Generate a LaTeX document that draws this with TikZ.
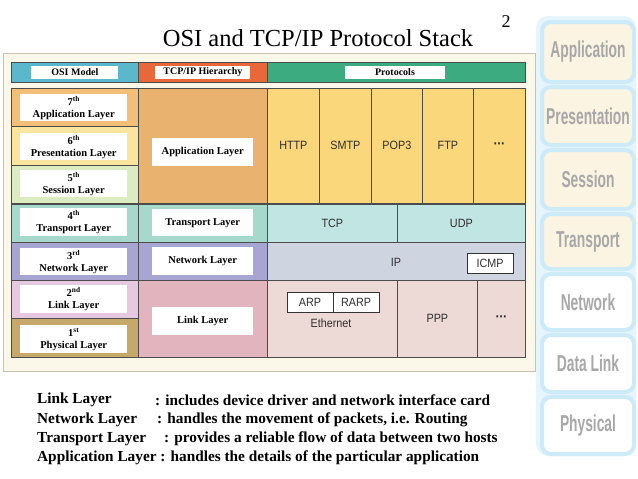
\documentclass[tikz,border=0pt]{standalone}
\usepackage{fontspec}
\usepackage{graphicx}
\setmainfont{Liberation Serif}
\setsansfont{Liberation Sans}
\definecolor{panelbg}{HTML}{FBF8EA}
\definecolor{panelbd}{HTML}{C8C2AE}
\definecolor{osihead}{HTML}{5BB8CC}
\definecolor{tcphead}{HTML}{E8683A}
\definecolor{prothead}{HTML}{3DAB80}
\definecolor{appsev}{HTML}{F3BE78}
\definecolor{pressix}{HTML}{FBE59E}
\definecolor{sessfive}{HTML}{DCEBC0}
\definecolor{transc}{HTML}{A6D9CB}
\definecolor{netc}{HTML}{A7A6D3}
\definecolor{linktwo}{HTML}{E6C9E1}
\definecolor{physc}{HTML}{C6A96A}
\definecolor{tcpapp}{HTML}{E9B26F}
\definecolor{tcplink}{HTML}{E2B4BD}
\definecolor{protoapp}{HTML}{FBD77B}
\definecolor{prototrans}{HTML}{C0E5E3}
\definecolor{protonet}{HTML}{CFD4E1}
\definecolor{protolink}{HTML}{EDD9D5}
\definecolor{sideblue}{HTML}{CDEAF8}
\definecolor{sideglow}{HTML}{E6F4FB}
\definecolor{sidecream}{HTML}{FBF4E2}
\definecolor{sidetext}{HTML}{A8A8A8}
\definecolor{prottext}{HTML}{2E2E2E}
\newcommand\ptxt[1]{\scalebox{0.9}[1]{\sffamily\fontsize{12}{13}\selectfont\color{prottext}#1}}
\newcommand\pdotsx{{\bfseries\fontsize{14}{14}\selectfont ·\kern-0.5pt·\kern-0.5pt·}}
\tikzset{
  cellst/.style={draw=black!70, line width=0.7pt, inner sep=0pt, rectangle},
  lblst/.style={fill=white, inner sep=0pt, align=center, font=\bfseries\fontsize{10.5}{12}\selectfont},
  headlbl/.style={fill=white, inner sep=0pt, font=\bfseries\fontsize{10}{12}\selectfont},
  smallbox/.style={draw=black!80, fill=white, line width=0.8pt, inner sep=0pt},
  sidebox/.style={draw=sideblue, line width=4pt, rounded corners=9pt, inner sep=0pt},
  sidetxt/.style={text=sidetext, inner sep=0pt},
  desc/.style={anchor=west, inner sep=0pt, font=\bfseries\fontsize{15.3}{17}\selectfont}
}
\newcommand\cellbox[7]{%
  \node[cellst, fill=#6, minimum width={#4pt-#2pt}, minimum height={#5pt-#3pt}, anchor=north west] (#1) at (#2,#3) {#7};}
\newcommand\lblbox[6]{%
  \node[lblst, minimum width={#4pt-#2pt}, minimum height={#5pt-#3pt}, anchor=north west] (#1) at (#2,#3) {#6};}
\newcommand\sidebx[6]{%
  \node[sidebox, fill=#6, minimum width={#4pt-#2pt}, minimum height={#5pt-#3pt}, anchor=north west] (#1) at (#2,#3) {};}
\newcommand\sidelabel[1]{\scalebox{0.6}[1]{\fontsize{23}{23}\selectfont\sffamily\bfseries #1}}
\begin{document}
\begin{tikzpicture}[x=1pt,y=-1pt]
\useasboundingbox (0,0) rectangle (638,479);
\fill[white] (0,0) rectangle (638,479);
% title
\node[inner sep=0pt, font=\fontsize{24.5}{26}\selectfont] (title) at (318,38) {OSI and TCP/IP Protocol Stack};
\node[inner sep=0pt, font=\fontsize{18}{20}\selectfont] (pagenum) at (506,22) {2};
% right decorative OSI column
\fill[sideglow, rounded corners=12pt] (536,16) rectangle (636,456);
\sidebx{sapp}{540}{20}{632}{80}{sidecream}
\sidebx{spres}{540}{85}{632}{143}{sidecream}
\sidebx{ssess}{540}{148}{632}{207}{sidecream}
\sidebx{strans}{540}{212}{632}{267}{sidecream}
\sidebx{snet}{540}{272}{632}{328}{white}
\sidebx{sdl}{540}{333}{632}{390}{white}
\sidebx{sphys}{540}{395}{632}{452}{white}
\node[sidetxt] (tapp) at (sapp.center) {\sidelabel{Application}};
\node[sidetxt] (tpres) at (spres.center) {\sidelabel{Presentation}};
\node[sidetxt] (tsess) at (ssess.center) {\sidelabel{Session}};
\node[sidetxt] (ttrans) at (strans.center) {\sidelabel{Transport}};
\node[sidetxt] (tnet) at (snet.center) {\sidelabel{Network}};
\node[sidetxt] (tdl) at (sdl.center) {\sidelabel{Data Link}};
\node[sidetxt] (tphys) at (sphys.center) {\sidelabel{Physical}};
% panel
\node[draw=panelbd, fill=panelbg, line width=0.8pt, minimum width=532pt, minimum height=318pt, anchor=north west, inner sep=0pt] (panel) at (3,53) {};
% header row
\cellbox{hosi}{11}{62}{138}{82}{osihead}{}
\cellbox{htcp}{138}{62}{267}{82}{tcphead}{}
\cellbox{hprot}{267}{62}{525}{82}{prothead}{}
\node[headlbl, minimum width=87pt, minimum height=13pt] (losi) at (hosi.center) {OSI Model};
\node[headlbl, minimum width=95pt, minimum height=13pt] (ltcp) at (htcp.center) {TCP/IP Hierarchy};
\node[headlbl, minimum width=100pt, minimum height=13pt] (lprot) at (395,72) {Protocols};
% OSI column
\cellbox{o7}{11}{88}{138}{126}{appsev}{}
\cellbox{o6}{11}{126}{138}{165}{pressix}{}
\cellbox{o5}{11}{165}{138}{203}{sessfive}{}
\cellbox{o4}{11}{204}{138}{242}{transc}{}
\cellbox{o3}{11}{242}{138}{280}{netc}{}
\cellbox{o2}{11}{280}{138}{318}{linktwo}{}
\cellbox{o1}{11}{318}{138}{357}{physc}{}
\lblbox{l7}{20}{94}{127}{121}{7\textsuperscript{th}\\Application Layer}
\lblbox{l6}{20}{133}{127}{160}{6\textsuperscript{th}\\Presentation Layer}
\lblbox{l5}{20}{170}{127}{197}{5\textsuperscript{th}\\Session Layer}
\lblbox{l4}{20}{208}{127}{236}{4\textsuperscript{th}\\Transport Layer}
\lblbox{l3}{20}{248}{127}{275}{3\textsuperscript{rd}\\Network Layer}
\lblbox{l2}{20}{285}{127}{313}{2\textsuperscript{nd}\\Link Layer}
\lblbox{l1}{20}{325}{127}{353}{1\textsuperscript{st}\\Physical Layer}
% TCP/IP column
\cellbox{tapl}{138}{88}{267}{203}{tcpapp}{}
\cellbox{ttra}{138}{204}{267}{242}{transc}{}
\cellbox{tnw}{138}{242}{267}{280}{netc}{}
\cellbox{tlk}{138}{280}{267}{357}{tcplink}{}
\lblbox{lta}{152}{138}{253}{166}{Application Layer}
\lblbox{ltt}{152}{209}{253}{236}{Transport Layer}
\lblbox{ltn}{152}{247}{253}{275}{Network Layer}
\lblbox{ltl}{152}{307}{253}{335}{Link Layer}
% protocols column
\cellbox{phttp}{267}{88}{319}{203}{protoapp}{\ptxt{HTTP}}
\cellbox{psmtp}{319}{88}{371}{203}{protoapp}{\ptxt{SMTP}}
\cellbox{ppop}{371}{88}{422}{203}{protoapp}{\ptxt{POP3}}
\cellbox{pftp}{422}{88}{473}{203}{protoapp}{\ptxt{FTP}}
\cellbox{pdots}{473}{88}{525}{203}{protoapp}{\ptxt{\pdotsx}}
\cellbox{ptcp}{267}{204}{397}{242}{prototrans}{\ptxt{TCP}}
\cellbox{pudp}{397}{204}{525}{242}{prototrans}{\ptxt{UDP}}
\cellbox{pip}{267}{242}{525}{280}{protonet}{}
\node[inner sep=0pt] (iptext) at (396,262) {\ptxt{IP}};
\node[smallbox, minimum width=46pt, minimum height=20pt] (icmp) at (490,263) {\ptxt{ICMP}};
\cellbox{peth}{267}{280}{397}{357}{protolink}{}
\cellbox{pppp}{397}{280}{477}{357}{protolink}{\ptxt{PPP}}
\cellbox{pldots}{477}{280}{525}{357}{protolink}{\ptxt{\pdotsx}}
\node[smallbox, minimum width=46pt, minimum height=20pt] (arp) at (310,302) {\ptxt{ARP}};
\node[smallbox, minimum width=46pt, minimum height=20pt] (rarp) at (356,302) {\ptxt{RARP}};
\node[inner sep=0pt] (ethtext) at (331,323) {\ptxt{Ethernet}};
% description lines
\node[desc] (d1a) at (37,400) {Link Layer};
\node[desc] (d1b) at (155,400) {: includes device driver and network interface card};
\node[desc] (d2a) at (37,420) {Network Layer};
\node[desc] (d2b) at (157,420) {: handles the movement of packets, i.e. Routing};
\node[desc] (d3a) at (37,439) {Transport Layer};
\node[desc] (d3b) at (164,439) {: provides a reliable flow of data between two hosts};
\node[desc] (d4a) at (37,458) {Application Layer : handles the details of the particular application};
\end{tikzpicture}
\end{document}
